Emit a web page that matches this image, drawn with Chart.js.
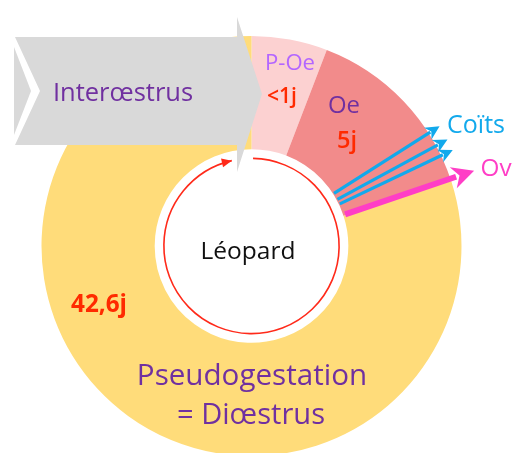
<!DOCTYPE html>
<html>
<head>
<meta charset="utf-8">
<script src="https://cdn.jsdelivr.net/npm/chart.js@4"></script>
<style>
  html, body { margin: 0; padding: 0; background: #fff; overflow: hidden; }
  #cycle { display: block; }
</style>
</head>
<body>
<canvas id="cycle" width="514" height="453"></canvas>
<script>
// Phases of the leopard cycle, sized by the angle they take on the ring (degrees)
const phaseLabels = ["P-Oe", "Oe", "Pseudogestation"];
const phaseDays = ["<1j", "5j", "42,6j"];
const phaseArc = [21, 51, 288];
// Events marked on the ring, in the same degree units
const coitsAt = [57.5, 61.5, 64.5];
const ovAt = [71.3];

const phaseColors = ["#fcd1d1", "#f28b8b", "#ffdc7a"];
const FONT = "'Open Sans', Lato, sans-serif";

// centred text, font size chosen so the string takes the given width
function text(ctx, str, x, y, width, color, weight) {
  const w = weight || "normal";
  ctx.font = w + " 20px " + FONT;
  const size = 20 * width / ctx.measureText(str).width;
  ctx.font = w + " " + size.toFixed(1) + "px " + FONT;
  ctx.fillStyle = color;
  ctx.textAlign = "center";
  ctx.textBaseline = "alphabetic";
  ctx.fillText(str, x, y);
}

// straight arrow from p0 to p1 with a notched filled head
function arrow(ctx, p0, p1, color, width, headLen, headHalf) {
  const dx = p1[0] - p0[0], dy = p1[1] - p0[1];
  const len = Math.hypot(dx, dy);
  const ux = dx / len, uy = dy / len;
  const bx = p1[0] - ux * headLen, by = p1[1] - uy * headLen;
  ctx.strokeStyle = color;
  ctx.lineWidth = width;
  ctx.lineCap = "butt";
  ctx.beginPath();
  ctx.moveTo(p0[0], p0[1]);
  ctx.lineTo(bx + ux * 3, by + uy * 3);
  ctx.stroke();
  ctx.fillStyle = color;
  ctx.beginPath();
  ctx.moveTo(p1[0], p1[1]);
  ctx.lineTo(bx - uy * headHalf, by + ux * headHalf);
  ctx.lineTo(bx + ux * headLen * 0.3, by + uy * headLen * 0.3);
  ctx.lineTo(bx + uy * headHalf, by - ux * headHalf);
  ctx.closePath();
  ctx.fill();
}

const cyclePlugin = {
  id: "cycleDecor",
  afterDatasetsDraw(chart) {
    const ctx = chart.ctx;
    const arc = chart.getDatasetMeta(0).data[0];
    const cx = arc.x, cy = arc.y;
    const rIn = arc.innerRadius, rOut = arc.outerRadius;
    const total = phaseArc.reduce((a, b) => a + b, 0);
    const ang = d => arc.startAngle + d * 2 * Math.PI / total;
    const pt = (a, r) => [cx + r * Math.cos(a), cy + r * Math.sin(a)];

    ctx.save();

    // circular arrow inside the ring
    const rc = rIn * 0.905;
    const a0 = ang(1), a1 = ang(347);
    ctx.strokeStyle = "#ff2a1a";
    ctx.lineWidth = 1.6;
    ctx.beginPath();
    ctx.arc(cx, cy, rc, a0, a1);
    ctx.stroke();
    const tip = pt(a1, rc);
    const tx = -Math.sin(a1), ty = Math.cos(a1);
    const nx = Math.cos(a1), ny = Math.sin(a1);
    ctx.fillStyle = "#ff2a1a";
    ctx.beginPath();
    ctx.moveTo(tip[0], tip[1]);
    ctx.lineTo(tip[0] - tx * 10 + nx * 4.5, tip[1] - ty * 10 + ny * 4.5);
    ctx.lineTo(tip[0] - tx * 10 - nx * 4.5, tip[1] - ty * 10 - ny * 4.5);
    ctx.closePath();
    ctx.fill();

    // Interœstrus chevron (with the tip of the previous one)
    ctx.fillStyle = "#d9d9d9";
    ctx.beginPath();
    ctx.moveTo(14, 47);
    ctx.lineTo(31, 91);
    ctx.lineTo(14, 135);
    ctx.closePath();
    ctx.fill();
    ctx.beginPath();
    ctx.moveTo(15, 37);
    ctx.lineTo(237, 37);
    ctx.lineTo(237, 17);
    ctx.lineTo(262, 94);
    ctx.lineTo(237, 172);
    ctx.lineTo(237, 145);
    ctx.lineTo(15, 145);
    ctx.lineTo(40, 91);
    ctx.closePath();
    ctx.fill();

    // Coïts and ovulation arrows
    coitsAt.forEach(d => {
      const a = ang(d);
      arrow(ctx, pt(a, rIn + 1), pt(a, rOut + 13), "#12a9ec", 3.2, 14, 7);
    });
    ovAt.forEach(d => {
      const a = ang(d);
      arrow(ctx, pt(a, rIn + 2), pt(a, rOut + 25), "#ff3ec6", 6, 22, 11);
    });

    // labels
    text(ctx, "Interœstrus", 123, 101, 140, "#7030a0");
    text(ctx, phaseLabels[0], 290, 70, 50, "#b366ff");
    text(ctx, phaseDays[0], 282, 103, 30, "#ff2a00", "600");
    text(ctx, phaseLabels[1], 344, 113, 32, "#7030a0");
    text(ctx, phaseDays[1], 347, 148, 20, "#ff2a00", "600");
    text(ctx, phaseDays[2], 99, 312, 56, "#ff2a00", "bold");
    text(ctx, phaseLabels[2], 252, 385, 230, "#7030a0");
    text(ctx, "= Diœstrus", 251, 424, 148, "#7030a0");
    text(ctx, "Coïts", 476, 133, 58, "#12a9ec");
    text(ctx, "Ov", 496, 176, 31, "#ff3ec6");
    text(ctx, "Léopard", 248, 259, 95, "#111");

    ctx.restore();
  }
};

new Chart(document.getElementById("cycle"), {
  type: "doughnut",
  data: {
    labels: phaseLabels,
    datasets: [{
      data: phaseArc,
      backgroundColor: phaseColors,
      borderWidth: 0,
      clip: false
    }]
  },
  options: {
    responsive: false,
    animation: false,
    events: [],
    radius: 210,
    cutout: "46.1%",
    layout: { padding: { left: 0, right: 11, top: 39, bottom: 0 } },
    plugins: {
      legend: { display: false },
      tooltip: { enabled: false }
    }
  },
  plugins: [cyclePlugin]
});
</script>
</body>
</html>
